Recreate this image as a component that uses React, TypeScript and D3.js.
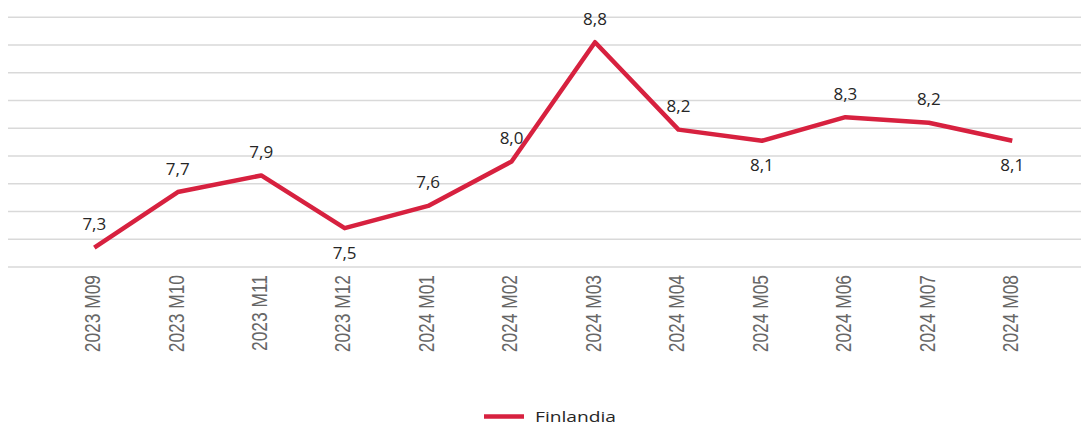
import React from "react";
import * as d3 from "d3";

const categories = ["2023 M09", "2023 M10", "2023 M11", "2023 M12", "2024 M01", "2024 M02", "2024 M03", "2024 M04", "2024 M05", "2024 M06", "2024 M07", "2024 M08"];
const values = [7.34, 7.74, 7.86, 7.48, 7.64, 7.96, 8.82, 8.19, 8.11, 8.28, 8.24, 8.11];
const labelBelow = [false, false, false, true, false, false, false, false, true, false, false, true];
const yTicks = [7.2, 7.4, 7.6, 7.8, 8.0, 8.2, 8.4, 8.6, 8.8, 9.0];
const seriesName = "Finlandia";

const W = 1081;
const H = 426;
const RED = "#d7213f";

export default function App() {
  const x = d3.scalePoint<string>().domain(categories).range([52.6, 1054]).padding(0.5);
  const y = d3.scaleLinear().domain([7.2, 9.0]).range([267, 17.25]);
  const line = d3
    .line<number>()
    .x((_, i) => x(categories[i]) as number)
    .y((d) => y(d));
  const fmt = (v: number) => d3.format(".1f")(v).replace(".", ",");

  return (
    <svg width={W} height={H} style={{ position: "absolute", left: 0, top: 0, background: "#fff" }}>
      {yTicks.map((t) => (
        <line key={t} x1={8} x2={W} y1={y(t)} y2={y(t)} stroke="#d9d9d9" strokeWidth={1.6} />
      ))}
      <path d={line(values) || ""} fill="none" stroke={RED} strokeWidth={4.5} strokeLinejoin="round" />
      {values.map((v, i) => (
        <text
          key={i}
          x={x(categories[i]) as number}
          y={y(v) + (labelBelow[i] ? 24 : -24)}
          textAnchor="middle"
          dominantBaseline="central"
          fontFamily="'Open Sans', sans-serif"
          fontSize={17}
          fill="#262626"
        >
          {fmt(v)}
        </text>
      ))}
      {categories.map((c) => {
        const cx = (x(c) as number) - 2;
        return (
          <text
            key={c}
            transform={`translate(${cx},275) rotate(-90) scale(0.79,1)`}
            textAnchor="end"
            dominantBaseline="central"
            fontFamily="'Liberation Sans', Arial, sans-serif"
            fontSize={22}
            fill="#666"
          >
            {c}
          </text>
        );
      })}
      <line x1={484} x2={524} y1={416.5} y2={416.5} stroke={RED} strokeWidth={4.5} />
      <text
        transform="translate(535,416.5) scale(1.37,1)"
        dominantBaseline="central"
        fontFamily="'Open Sans', sans-serif"
        fontSize={14}
        fill="#262626"
      >
        {seriesName}
      </text>
    </svg>
  );
}
